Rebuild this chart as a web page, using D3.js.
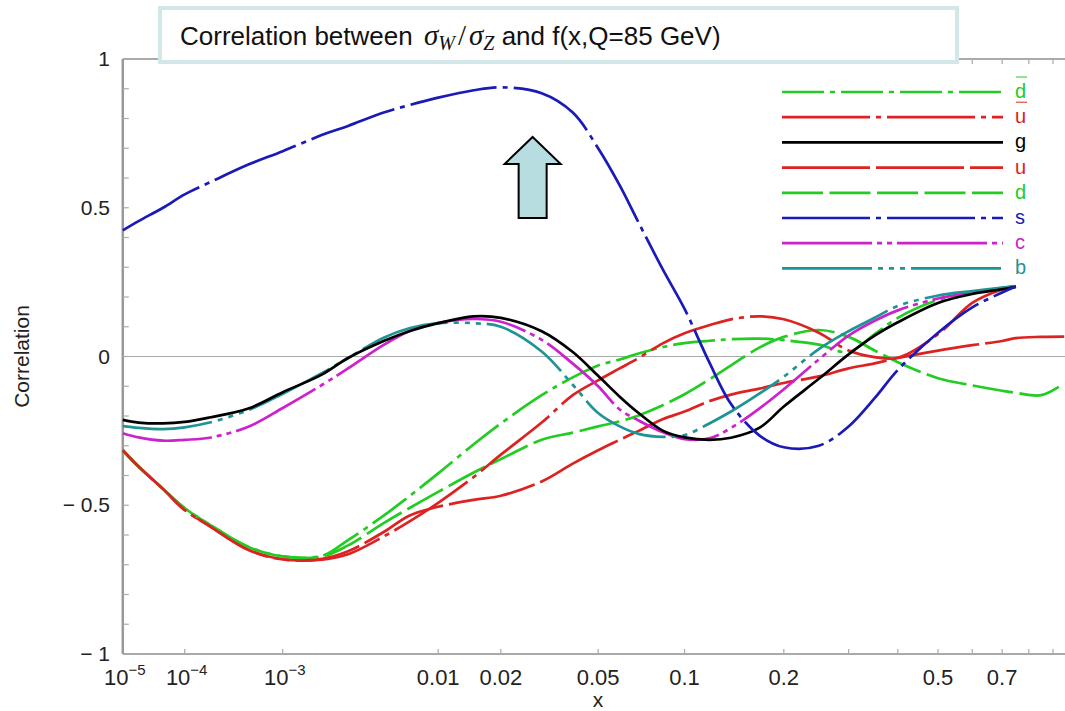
<!DOCTYPE html>
<html lang="en">
<head>
<meta charset="utf-8">
<title>Correlation between sigma_W/sigma_Z and f(x,Q=85 GeV)</title>
<script src="https://cdn.jsdelivr.net/npm/d3@7"></script>
<style>
  body { margin: 0; background: #fff; }
  text { font-family: "Liberation Sans", Arial, sans-serif; }
</style>
</head>
<body>
<script>
// x grid shared by the curves (the u and d curves run a bit further)
var xs = [1e-5, 2e-5, 5e-5, 1e-4, 2e-4, 5e-4, 1e-3, 2e-3, 3e-3, 5e-3, 7e-3, 0.01, 0.015, 0.02, 0.03, 0.04,
          0.05, 0.06, 0.07, 0.085, 0.1, 0.12, 0.14, 0.17, 0.2, 0.25, 0.3, 0.35, 0.4, 0.5, 0.6, 0.7, 0.75];
var xsExt = xs.concat([0.85, 0.95]);

var dbarVals = [-0.315, -0.37, -0.445, -0.51, -0.565, -0.64, -0.672, -0.67, -0.617, -0.535, -0.47, -0.393, -0.295, -0.225, -0.13, -0.07,
                -0.03, -0.01, 0.01, 0.032, 0.045, 0.053, 0.058, 0.06, 0.055, 0.04, 0.015, 0.075, 0.13, 0.19, 0.215, 0.23, 0.235];
var ubarVals = [-0.315, -0.37, -0.445, -0.516, -0.57, -0.65, -0.682, -0.683, -0.665, -0.605, -0.555, -0.492, -0.405, -0.33, -0.222, -0.13,
                -0.08, -0.04, -0.005, 0.045, 0.078, 0.105, 0.125, 0.135, 0.125, 0.08, 0.02, -0.002, -0.004, 0.075, 0.18, 0.225, 0.235];
var gVals    = [-0.213, -0.222, -0.225, -0.22, -0.205, -0.175, -0.12, -0.06, -0.005, 0.052, 0.085, 0.112, 0.135, 0.13, 0.085, 0.015,
                -0.065, -0.135, -0.19, -0.25, -0.272, -0.28, -0.273, -0.24, -0.168, -0.075, 0.007, 0.07, 0.115, 0.18, 0.21, 0.226, 0.234];
var uVals    = [-0.315, -0.37, -0.445, -0.516, -0.57, -0.65, -0.682, -0.68, -0.655, -0.59, -0.535, -0.505, -0.482, -0.468, -0.42, -0.36,
                -0.315, -0.28, -0.25, -0.21, -0.185, -0.15, -0.128, -0.108, -0.089, -0.067, -0.04, -0.023, -0.005, 0.02, 0.038, 0.052, 0.062,
                0.066, 0.067];
var dVals    = [-0.315, -0.37, -0.445, -0.51, -0.565, -0.64, -0.672, -0.672, -0.635, -0.56, -0.51, -0.455, -0.39, -0.345, -0.28, -0.256,
                -0.235, -0.218, -0.198, -0.163, -0.127, -0.077, -0.03, 0.03, 0.066, 0.089, 0.066, 0.02, -0.019, -0.073, -0.097, -0.115, -0.122,
                -0.13, -0.09];
var sVals    = [0.424, 0.455, 0.5, 0.545, 0.585, 0.645, 0.69, 0.745, 0.775, 0.82, 0.845, 0.87, 0.895, 0.905, 0.885, 0.82,
                0.7, 0.575, 0.45, 0.29, 0.16, -0.02, -0.16, -0.265, -0.305, -0.3, -0.235, -0.14, -0.045, 0.08, 0.165, 0.215, 0.235];
var cVals    = [-0.258, -0.272, -0.283, -0.28, -0.273, -0.236, -0.173, -0.095, -0.04, 0.039, 0.085, 0.113, 0.126, 0.117, 0.056, -0.024,
                -0.1, -0.178, -0.215, -0.255, -0.278, -0.275, -0.24, -0.175, -0.11, -0.01, 0.07, 0.12, 0.155, 0.195, 0.215, 0.23, 0.235];
var bVals    = [-0.234, -0.24, -0.244, -0.238, -0.222, -0.18, -0.125, -0.055, -0.005, 0.063, 0.095, 0.112, 0.112, 0.1, 0.017, -0.095,
                -0.19, -0.235, -0.26, -0.27, -0.264, -0.225, -0.185, -0.125, -0.068, 0.025, 0.085, 0.13, 0.17, 0.205, 0.22, 0.232, 0.237];

// legend order, top to bottom
var seriesNames = ["dbar", "ubar", "g", "u", "d", "s", "c", "b"];
var seriesLabels = ["d", "u", "g", "u", "d", "s", "c", "b"];
var seriesBar = [true, true, false, false, false, false, false, false];
var seriesX = [xs, xs, xs, xsExt, xsExt, xs, xs, xs];
var seriesY = [dbarVals, ubarVals, gVals, uVals, dVals, sVals, cVals, bVals];
var seriesColor = ["#22cc22", "#dd2222", "#000000", "#dd2222", "#22cc22", "#1a1ab8", "#cc22cc", "#1f9494"];
var seriesDash = ["42,6,5,6", "88,6,5,6", null, "88,6", "41,6.5", "88,6,5,6", "90,5,5,5,5,5", "90,6,5,6,5,6,5,6"];

var xTicks = [1e-4, 1e-3, 0.01, 0.02, 0.05, 0.1, 0.2, 0.3, 0.4, 0.5, 0.6, 0.7, 0.8, 0.9];
var xLabels = [
  {v: 1e-5, base: "10", sup: "\u22125"},
  {v: 1e-4, base: "10", sup: "\u22124"},
  {v: 1e-3, base: "10", sup: "\u22123"},
  {v: 0.01, base: "0.01"}, {v: 0.02, base: "0.02"}, {v: 0.05, base: "0.05"},
  {v: 0.1, base: "0.1"}, {v: 0.2, base: "0.2"}, {v: 0.5, base: "0.5"}, {v: 0.7, base: "0.7"}
];
var yTicks = d3.range(-10, 11).map(function(i) { return i / 10; });
var yLabelVals = [1, 0.5, 0, -0.5, -1];
var yLabelText = ["1", "0.5", "0", "\u2212 0.5", "\u2212 1"];

var W = 1065, H = 711;
var svg = d3.select("body").append("svg").attr("width", W).attr("height", H);

var x = d3.scalePow().exponent(0.2).domain([1e-5, 1]).range([122.8, 1075]);
var y = d3.scaleLinear().domain([-1, 1]).range([654, 59]);
var xL = x(1e-5), xR = x(1), yB = y(-1), yT = y(1);

// frame
svg.append("line").attr("x1", xL).attr("x2", xR).attr("y1", yB).attr("y2", yB)
   .attr("stroke", "#aaa").attr("stroke-width", 2);
svg.append("line").attr("x1", xL).attr("x2", xR).attr("y1", yT).attr("y2", yT)
   .attr("stroke", "#aaa").attr("stroke-width", 2);
svg.append("line").attr("x1", xL).attr("x2", xL).attr("y1", yT).attr("y2", yB)
   .attr("stroke", "#999").attr("stroke-width", 2.5);

// zero line
svg.append("line").attr("x1", xL).attr("x2", xR).attr("y1", y(0)).attr("y2", y(0))
   .attr("stroke", "#aaa").attr("stroke-width", 1.2);

// x ticks, bottom and top
svg.selectAll("xtick_b").data(xTicks).enter().append("line")
   .attr("x1", function(d) { return x(d); }).attr("x2", function(d) { return x(d); })
   .attr("y1", yB).attr("y2", yB - 5).attr("stroke", "#aaa").attr("stroke-width", 1.2);
svg.selectAll("xtick_t").data(xTicks).enter().append("line")
   .attr("x1", function(d) { return x(d); }).attr("x2", function(d) { return x(d); })
   .attr("y1", yT).attr("y2", yT + 5).attr("stroke", "#aaa").attr("stroke-width", 1.2);

// y ticks
svg.selectAll("ytick").data(yTicks).enter().append("line")
   .attr("x1", xL).attr("x2", xL + 6)
   .attr("y1", function(d) { return y(d); }).attr("y2", function(d) { return y(d); })
   .attr("stroke", "#aaa").attr("stroke-width", 1.2);

// x tick labels
var xl = svg.selectAll("xlab").data(xLabels).enter().append("text")
   .attr("x", function(d) { return x(d.v) + (d.sup ? 2 : 0); })
   .attr("y", 685)
   .attr("text-anchor", "middle")
   .attr("font-size", 22)
   .attr("fill", "#222");
xl.append("tspan").text(function(d) { return d.base; });
xl.filter(function(d) { return d.sup; }).append("tspan")
   .attr("dy", -10).attr("font-size", 15).text(function(d) { return d.sup; });

// y tick labels
svg.selectAll("ylab").data(yLabelVals).enter().append("text")
   .attr("x", 110)
   .attr("y", function(d) { return y(d) + 7; })
   .attr("text-anchor", "end")
   .attr("font-size", 21)
   .attr("fill", "#222")
   .text(function(d, i) { return yLabelText[i]; });

// axis titles
svg.append("text").attr("x", 598).attr("y", 707).attr("text-anchor", "middle")
   .attr("font-size", 21).attr("fill", "#222").text("x");
svg.append("text").attr("transform", "translate(29," + y(0) + ") rotate(-90)")
   .attr("text-anchor", "middle").attr("font-size", 21).attr("fill", "#222").text("Correlation");

// curves
var line = d3.line()
   .x(function(d) { return x(d[0]); })
   .y(function(d) { return y(d[1]); })
   .curve(d3.curveCatmullRom.alpha(0.5));

// draw so the black and blue end up near the top, like the original
var drawOrder = [4, 3, 0, 1, 6, 7, 2, 5];
drawOrder.forEach(function(i) {
  var pts = seriesX[i].map(function(v, k) { return [v, seriesY[i][k]]; });
  svg.append("path")
     .datum(pts)
     .attr("d", line)
     .attr("fill", "none")
     .attr("stroke", seriesColor[i])
     .attr("stroke-width", 2.7)
     .attr("stroke-dasharray", seriesDash[i]);
});

// legend
var lgX1 = 782, lgX2 = 1003, lgY0 = 92, lgStep = 25.2;
seriesNames.forEach(function(name, i) {
  var ly = lgY0 + i * lgStep;
  svg.append("line").attr("x1", lgX1).attr("x2", lgX2).attr("y1", ly).attr("y2", ly)
     .attr("stroke", seriesColor[i]).attr("stroke-width", 2.7)
     .attr("stroke-dasharray", seriesDash[i]);
  svg.append("text").attr("x", 1015).attr("y", ly + 6)
     .attr("font-size", 20).attr("fill", seriesColor[i]).text(seriesLabels[i]);
  if (seriesBar[i]) {
    svg.append("line").attr("x1", 1016).attr("x2", 1027).attr("y1", ly - 15).attr("y2", ly - 15)
       .attr("stroke", seriesColor[i]).attr("stroke-width", 1);
  }
});

// arrow marker pointing at the s peak
var ax = x(0.0275), ay = y(0.738);
var arrowPts = [[0, 0], [28, 27], [14, 27], [14, 81], [-14, 81], [-14, 27], [-28, 27]];
svg.append("polygon")
   .attr("points", arrowPts.map(function(p) { return (ax + p[0]) + "," + (ay + p[1]); }).join(" "))
   .attr("fill", "#b8dde0").attr("stroke", "#000").attr("stroke-width", 2);

// title box
svg.append("rect").attr("x", 160).attr("y", 8).attr("width", 797).attr("height", 54)
   .attr("fill", "#fff").attr("stroke", "#d2e8e8").attr("stroke-width", 4);
var serif = "Liberation Serif, serif";
var t = svg.append("text").attr("x", 180).attr("y", 45).attr("font-size", 26).attr("fill", "#111");
t.append("tspan").text("Correlation between ");
t.append("tspan").attr("font-family", serif).attr("font-style", "italic").attr("font-size", 29).attr("dx", 4).text("\u03c3");
t.append("tspan").attr("font-family", serif).attr("font-style", "italic").attr("font-size", 20).attr("dy", 5).text("W");
t.append("tspan").attr("font-family", serif).attr("font-size", 29).attr("dy", -5).attr("dx", 3).text("/");
t.append("tspan").attr("font-family", serif).attr("font-style", "italic").attr("font-size", 29).attr("dx", 3).text("\u03c3");
t.append("tspan").attr("font-family", serif).attr("font-style", "italic").attr("font-size", 20).attr("dy", 5).text("Z");
t.append("tspan").attr("dy", -5).text(" and f(x,Q=85 GeV)");
</script>
</body>
</html>
